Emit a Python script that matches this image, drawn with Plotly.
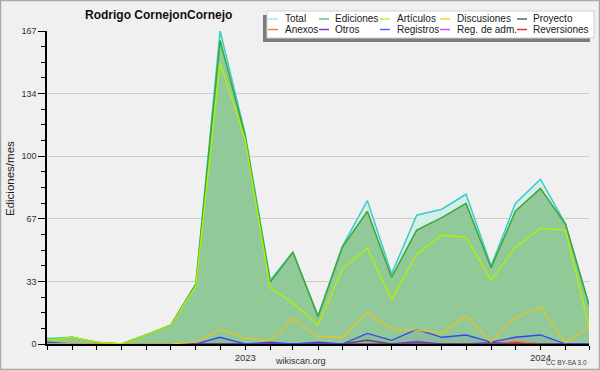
import plotly.graph_objects as go

# ---------------- data ----------------
months = ["2022-05-01", "2022-06-01", "2022-07-01", "2022-08-01", "2022-09-01", "2022-10-01",
          "2022-11-01", "2022-12-01", "2023-01-01", "2023-02-01", "2023-03-01", "2023-04-01",
          "2023-05-01", "2023-06-01", "2023-07-01", "2023-08-01", "2023-09-01", "2023-10-01",
          "2023-11-01", "2023-12-01", "2024-01-01", "2024-02-01", "2024-03-01"]

total       = [3, 3.6, 1, 0, 5, 10, 32, 167, 112, 34, 49, 15, 52, 76.5, 37.4, 68.7, 71.9, 79.9, 41.6, 75, 87.9, 64, 21]
ediciones   = [2, 3.6, 1, 0, 5, 10, 32, 162, 111, 33, 49, 14.6, 51.6, 70.8, 35.6, 60.8, 67.4, 75, 40.7, 70.8, 83, 63.9, 20.8]
articulos   = [2, 3.6, 1, 0, 5, 10, 31, 150, 109, 30, 22, 10, 40, 51, 23.8, 47.9, 58, 57, 34, 51.6, 61.7, 60.8, 9.2]
discusiones = [0, 0, 0, 0, 0, 0, 1, 7.8, 3, 1.8, 13.7, 4, 3.6, 17, 7.8, 7.5, 5.7, 15, 1, 14.2, 19.6, 0.7, 8.9]
proyecto    = [0, 0, 0, 0, 0, 0, 0, 0, 0, 0, 0, 0, 0, 2, 0, 0, 0, 0, 0, 0, 0, 0, 0]
anexos      = [0, 0, 0, 0, 0, 0, 0, 0, 0, 0, 0, 0, 0, 0, 0, 0, 0, 0, 0, 1.5, 0, 0, 0]
otros       = [0, 0, 0, 0, 0, 0, 0, 0, 0, 0, 0, 0, 0, 0, 0, 1.2, 0, 0, 0.7, 0, 0, 0, 0]
registros   = [1, 0, 0, 0, 0, 0, 0, 3.6, 0, 1, 0, 1, 0, 5.7, 2, 7.8, 3.6, 4.8, 1, 3.6, 4.8, 0, 0]
reg_adm     = [0] * 23
reversiones = [0, 0, 0, 0, 0, 0, 0, 0, 0, 0, 0, 0, 0, 0, 0, 0, 0, 0, 0, 1, 0, 0, 0]

y_tickvals = [0, 33.4, 66.8, 100.2, 133.6, 167]
y_ticktext = ["0", "33", "67", "100", "134", "167"]
x_ticktext = [m[:4] if m.endswith("-01-01") else "" for m in months]

legend_names = ["Total", "Ediciones", "Artículos", "Discusiones", "Proyecto",
                "Anexos", "Otros", "Registros", "Reg. de adm.", "Reversiones"]
legend_colors = ["#a8e4e0", "#70c070", "#c8f040", "#f8d040", "#606060",
                 "#f08040", "#8030d0", "#6060f0", "#d050e0", "#e83030"]

FONT = "Liberation Sans, Arial, sans-serif"
W, H = 600, 370
L, R, T, B = 47, 11, 31, 26
PW, PH = W - L - R, H - T - B


def px(x):
    return (x - L) / PW


def py(y):
    return (H - B - y) / PH


fig = go.Figure()

# filled areas
fig.add_trace(go.Scatter(x=months, y=total, mode="lines", name="Total",
                         line=dict(color="#3cccc8", width=1.5), fill="tozeroy",
                         fillcolor="#d6eeea", showlegend=False))
fig.add_trace(go.Scatter(x=months, y=ediciones, mode="lines", name="Ediciones",
                         line=dict(color="#38a838", width=1.5), fill="tozeroy",
                         fillcolor="#92c998", showlegend=False))
fig.add_trace(go.Scatter(x=months, y=registros, mode="lines", name="Registros",
                         line=dict(color="rgba(0,0,0,0)", width=0), fill="tozeroy",
                         fillcolor="rgba(70,70,240,0.08)", showlegend=False, hoverinfo="skip"))

line_series = [
    ("Reversiones", reversiones, "#e83030"),
    ("Reg. de adm.", reg_adm, "#d050e0"),
    ("Anexos", anexos, "#f08040"),
    ("Otros", otros, "#8020d8"),
    ("Proyecto", proyecto, "#505050"),
    ("Registros", registros, "#4040f0"),
    ("Discusiones", discusiones, "#f0c020"),
    ("Artículos", articulos, "#b4f000"),
]
for name, vals, col in line_series:
    fig.add_trace(go.Scatter(x=months, y=vals, mode="lines", name=name,
                             line=dict(color=col, width=1.3), showlegend=False))

shapes = []
annotations = []

# outer border
shapes.append(dict(type="rect", xref="paper", yref="paper", x0=px(0.5), x1=px(599.5),
                   y0=py(369.5), y1=py(0.5), line=dict(color="#a8a8a8", width=1.5),
                   fillcolor="rgba(0,0,0,0)", layer="above"))

# legend box with shadow
shapes.append(dict(type="rect", xref="paper", yref="paper", x0=px(263), x1=px(590),
                   y0=py(42), y1=py(15), line=dict(width=0), fillcolor="#7c7c7c", layer="above"))
shapes.append(dict(type="rect", xref="paper", yref="paper", x0=px(267), x1=px(594),
                   y0=py(38), y1=py(11), line=dict(color="#d0d0d0", width=1),
                   fillcolor="#ffffff", layer="above"))

col_line_x = [268, 319, 380, 440, 517]
col_text_x = [284, 334, 396, 456, 532]
row_y = [19, 29.5]
for i, (nm, col) in enumerate(zip(legend_names, legend_colors)):
    c, r = i % 5, i // 5
    shapes.append(dict(type="line", xref="paper", yref="paper",
                       x0=px(col_line_x[c]), x1=px(col_line_x[c] + 10),
                       y0=py(row_y[r]), y1=py(row_y[r]),
                       line=dict(color=col, width=1.5), layer="above"))
    annotations.append(dict(text=nm, xref="paper", yref="paper", x=px(col_text_x[c]),
                            y=py(row_y[r]), xanchor="left", yanchor="middle", showarrow=False,
                            font=dict(family=FONT, size=10, color="#202020"), borderpad=0))

# title
annotations.append(dict(text="<b>Rodrigo CornejonCornejo</b>", xref="paper", yref="paper",
                        x=px(158.5), y=py(15), xanchor="center", yanchor="middle",
                        showarrow=False, font=dict(family=FONT, size=12, color="#101010")))
# y axis title
annotations.append(dict(text="Ediciones/mes", xref="paper", yref="paper", x=px(10), y=py(179),
                        xanchor="center", yanchor="middle", textangle=-90, showarrow=False,
                        font=dict(family=FONT, size=11.5, color="#202020")))
# footer texts
annotations.append(dict(text="wikiscan.org", xref="paper", yref="paper", x=px(300), y=py(361),
                        xanchor="center", yanchor="middle", showarrow=False,
                        font=dict(family=FONT, size=9, color="#303030")))
annotations.append(dict(text="CC BY-SA 3.0", xref="paper", yref="paper", x=px(589), y=py(362.5),
                        xanchor="right", yanchor="middle", showarrow=False,
                        font=dict(family=FONT, size=6.5, color="#404040")))

fig.update_layout(
    width=W, height=H,
    margin=dict(l=L, r=R, t=T, b=B, autoexpand=False),
    paper_bgcolor="#f0f0f0", plot_bgcolor="#f0f0f0",
    showlegend=False,
    shapes=shapes, annotations=annotations,
    font=dict(family=FONT, size=9, color="#303030"),
)
fig.update_xaxes(type="date", range=[months[0], months[-1]], tickmode="array",
                 tickvals=months, ticktext=x_ticktext, ticks="outside", ticklen=4,
                 tickcolor="#000", showline=True, linecolor="#000", linewidth=1.5,
                 showgrid=False, zeroline=False, automargin=False,
                 tickfont=dict(family=FONT, size=9.5, color="#303030"),
                 fixedrange=True)
fig.update_yaxes(range=[0, 167], tickmode="array", tickvals=y_tickvals, ticktext=y_ticktext,
                 ticks="outside", ticklen=7, tickcolor="#000", showline=True, linecolor="#000",
                 linewidth=1.5, showgrid=True, gridcolor="#cccccc", gridwidth=1, zeroline=False,
                 automargin=False, tickfont=dict(family=FONT, size=9, color="#303030"),
                 minor=dict(tickmode="linear", tick0=0, dtick=8.35, ticks="outside", ticklen=4,
                            tickcolor="#000", showgrid=False),
                 fixedrange=True)

fig.write_html("out.html", config={"displayModeBar": False},
               post_script="document.body.style.margin='0px';document.body.style.padding='0px';"
                           "document.body.style.overflow='hidden';")
